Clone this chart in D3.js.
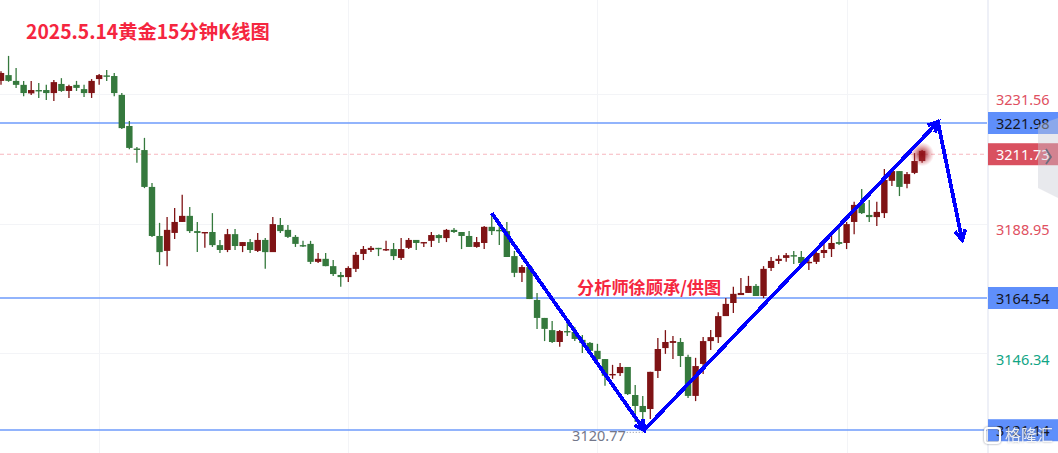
<!DOCTYPE html>
<html>
<head>
<meta charset="utf-8">
<script src="https://cdn.jsdelivr.net/npm/d3@7"></script>
<style>
  html, body { margin: 0; padding: 0; background: #fff; overflow: hidden; }
  svg { display: block; }
  text { font-family: "Noto Sans", "Noto Sans CJK SC", sans-serif; }
</style>
</head>
<body>
<svg id="chart"></svg>
<script>
// 15 minute candles, one entry per bar
const opens = [3235.8,3237.7,3235.8,3234.5,3231.7,3232.8,3232.8,3231.8,3234.8,3232.5,3234.5,3233.1,3231.8,3236.4,3237.6,3237.4,3231.2,3221.0,3213.6,3213.1,
  3201.0,3184.9,3180.0,3185.9,3189.5,3191.5,3186.5,3185.9,3186.2,3181.9,3180.3,3185.5,3181.6,3182.9,3180.0,3183.6,3179.6,3188.5,3186.9,3184.6,
  3181.9,3182.3,3176.4,3177.4,3175.0,3172.1,3171.4,3174.1,3179.0,3180.3,3181.0,3180.3,3180.6,3177.7,3181.0,3183.6,3182.6,3183.3,3185.2,3184.2,
  3186.9,3186.2,3184.9,3181.3,3182.6,3187.9,3186.9,3186.5,3178.3,3172.8,3174.7,3163.9,3158.0,3154.0,3150.1,3153.7,3153.4,3150.8,3149.8,3147.2,
  3144.5,3139.3,3139.9,3141.9,3132.7,3129.1,3128.1,3140.6,3148.1,3149.8,3150.1,3145.2,3132.4,3142.9,3150.4,3151.7,3158.6,3162.9,3165.5,3166.2,
  3168.5,3165.2,3174.4,3176.7,3177.7,3178.6,3178.0,3176.0,3176.4,3179.3,3180.6,3182.9,3182.6,3189.5,3195.7,3191.8,3191.1,3192.4,3203.0,3206.2,
  3202.0,3205.6,3209.5];
const highs = [3239.0,3244.0,3240.0,3235.8,3235.8,3235.1,3234.5,3236.1,3236.7,3234.5,3235.8,3234.5,3236.4,3238.1,3239.4,3238.4,3231.8,3222.6,3214.1,3217.1,
  3202.3,3189.2,3191.1,3194.1,3198.4,3194.4,3189.5,3186.2,3192.4,3183.6,3187.2,3187.2,3182.9,3183.9,3185.9,3184.2,3191.1,3190.8,3188.5,3185.2,
  3183.3,3183.3,3179.3,3179.3,3177.0,3173.1,3175.0,3179.6,3181.6,3181.6,3181.0,3183.3,3182.6,3184.2,3184.2,3183.6,3182.9,3186.2,3185.5,3187.2,
  3187.5,3186.2,3186.5,3184.6,3188.2,3192.4,3189.5,3189.5,3180.0,3175.4,3175.4,3166.2,3158.0,3157.0,3154.0,3156.7,3155.0,3152.4,3150.1,3149.5,
  3144.5,3142.6,3143.2,3141.9,3136.0,3132.4,3140.3,3151.4,3154.0,3152.1,3151.4,3145.9,3144.9,3151.7,3154.0,3159.9,3164.5,3168.2,3171.1,3171.8,
  3169.1,3175.0,3178.0,3178.6,3179.3,3180.0,3180.0,3178.0,3179.6,3182.6,3185.2,3187.5,3189.5,3196.1,3200.3,3196.7,3196.1,3206.9,3206.6,3206.2,
  3205.9,3212.1,3213.1];
const lows = [3234.5,3235.5,3233.5,3230.8,3231.2,3230.2,3229.5,3229.2,3232.2,3230.2,3232.5,3230.5,3230.2,3234.5,3235.8,3230.8,3220.0,3213.4,3208.9,3200.6,
  3184.6,3175.4,3175.0,3183.9,3189.5,3185.9,3179.6,3181.0,3181.3,3179.3,3179.6,3180.3,3179.6,3179.3,3179.6,3174.1,3179.6,3185.9,3184.2,3181.3,
  3181.3,3175.7,3176.0,3175.0,3171.8,3168.2,3169.8,3173.1,3177.0,3179.6,3178.3,3180.0,3177.0,3177.0,3180.6,3180.3,3181.3,3181.3,3182.6,3182.9,
  3185.9,3180.6,3181.3,3181.0,3180.6,3185.2,3181.9,3178.0,3171.4,3169.8,3164.2,3154.4,3150.4,3149.8,3148.5,3152.1,3150.4,3146.5,3146.5,3144.2,
  3135.7,3138.0,3138.9,3132.7,3123.8,3120.8,3124.8,3138.3,3146.2,3144.5,3141.9,3131.7,3130.7,3139.6,3147.5,3149.8,3158.6,3159.6,3165.5,3166.2,
  3165.2,3164.5,3173.4,3175.7,3176.4,3175.7,3174.7,3173.7,3175.7,3177.7,3178.0,3181.9,3180.6,3185.5,3192.1,3189.5,3188.2,3190.8,3201.3,3198.0,
  3200.6,3205.2,3208.9];
const closes = [3238.4,3235.8,3234.5,3231.8,3232.8,3232.5,3231.8,3235.4,3232.5,3234.1,3233.5,3231.8,3235.8,3237.7,3237.4,3231.8,3220.3,3213.8,3213.3,3201.0,
  3184.9,3179.6,3186.9,3189.5,3191.5,3186.5,3185.9,3186.2,3181.9,3180.3,3185.5,3181.6,3182.9,3180.3,3183.6,3179.6,3188.8,3186.5,3184.6,3182.3,
  3181.6,3176.4,3177.4,3175.0,3172.4,3171.4,3174.4,3178.7,3180.6,3181.0,3180.6,3180.6,3178.3,3180.6,3183.6,3182.6,3182.9,3185.2,3184.2,3186.9,
  3186.2,3184.9,3181.3,3182.9,3187.9,3186.5,3186.5,3178.0,3172.8,3174.7,3164.2,3158.0,3154.4,3150.1,3153.7,3153.4,3151.1,3149.8,3147.2,3144.5,
  3139.0,3139.6,3141.9,3133.0,3129.1,3127.1,3140.3,3147.8,3150.1,3150.4,3145.5,3132.4,3142.2,3150.4,3151.7,3158.6,3162.6,3165.9,3166.2,3168.5,
  3165.2,3174.1,3176.7,3177.4,3178.6,3178.3,3176.0,3176.4,3179.3,3180.3,3182.6,3182.3,3188.8,3195.1,3192.4,3191.1,3192.8,3203.3,3206.2,3201.0,
  3205.2,3209.5,3212.8];

const gridPrices = [3231.56, 3188.95, 3146.34];
const gridBars = [13, 46, 79, 112];
const linePrices = [3221.98, 3164.54, 3121.14];
const lastPrice = 3211.73;
const lowBar = 85, lowPrice = 3120.77;

// hand drawn blue arrows, in bar number / price
const arrowBars = [65, 85.2, 124.1, 127.3];
const arrowPrices = [3192.4, 3121.2, 3222.3, 3183.6];

const titleText = "2025.5.14黄金15分钟K线图";
const noteText = "分析师徐顾承/供图";

const svgWidth = 1058, svgHeight = 453, plotRight = 988;
const red = "#7f1315", green = "#35793d", blue = "#6e9bfb";

const svg = d3.select("#chart").attr("width", svgWidth).attr("height", svgHeight);

const x = d3.scaleLinear().domain([0, 100]).range([1, 756]);
const y = d3.scaleLinear().domain([3164.54, 3221.98]).range([298, 123]);

// grid
const grid = svg.append("g").attr("stroke", "#f3f4f7").attr("stroke-width", 1);
grid.selectAll(".gy").data(gridPrices).enter().append("line")
  .attr("x1", 0).attr("x2", plotRight)
  .attr("y1", d => Math.round(y(d)) + 0.5).attr("y2", d => Math.round(y(d)) + 0.5);
grid.selectAll(".gx").data(gridBars).enter().append("line")
  .attr("y1", 0).attr("y2", svgHeight)
  .attr("x1", d => Math.round(x(d)) + 0.5).attr("x2", d => Math.round(x(d)) + 0.5);

// horizontal levels
svg.selectAll(".level").data(linePrices).enter().append("line")
  .attr("x1", 0).attr("x2", plotRight)
  .attr("y1", d => Math.round(y(d))).attr("y2", d => Math.round(y(d)))
  .attr("stroke", blue).attr("stroke-width", 1.4);
svg.append("line")
  .attr("x1", 0).attr("x2", plotRight)
  .attr("y1", y(lastPrice)).attr("y2", y(lastPrice))
  .attr("stroke", "#f7b6bf").attr("stroke-width", 1.2).attr("stroke-dasharray", "4 3");

// candles
const candles = svg.append("g").style("filter", "blur(0.4px)");
const bars = candles.selectAll("g").data(d3.range(opens.length)).enter().append("g");
const barColor = i => closes[i] >= opens[i] ? red : green;
bars.append("line")
  .attr("x1", i => x(i)).attr("x2", i => x(i))
  .attr("y1", i => y(highs[i])).attr("y2", i => y(lows[i]))
  .attr("stroke", barColor).attr("stroke-width", 1.3);
bars.append("rect")
  .attr("x", i => x(i) - 3.2).attr("width", 6.4)
  .attr("y", i => y(Math.max(opens[i], closes[i])))
  .attr("height", i => Math.max(1.4, Math.abs(y(opens[i]) - y(closes[i]))))
  .attr("fill", barColor);

// pulse on the last bar
const defs = svg.append("defs");
const glow = defs.append("radialGradient").attr("id", "glow");
glow.append("stop").attr("offset", "0%").attr("stop-color", "#8f1016").attr("stop-opacity", 0.95);
glow.append("stop").attr("offset", "40%").attr("stop-color", "#a8252d").attr("stop-opacity", 0.6);
glow.append("stop").attr("offset", "100%").attr("stop-color", "#d9505f").attr("stop-opacity", 0);
svg.append("circle").attr("cx", x(opens.length - 1)).attr("cy", y(lastPrice)).attr("r", 12).attr("fill", "url(#glow)");

// lowest price label
svg.append("text")
  .attr("x", x(lowBar) - 17).attr("y", y(lowPrice) + 9.5)
  .attr("text-anchor", "end")
  .style("font-size", "14.5px").style("fill", "#73778a")
  .text(d3.format(".2f")(lowPrice));
svg.append("line")
  .attr("x1", x(lowBar) - 16).attr("x2", x(lowBar))
  .attr("y1", y(lowPrice) + 1).attr("y2", y(lowPrice) + 1)
  .attr("stroke", "#8a8ea0").attr("stroke-dasharray", "1 2");

// arrows
const arrows = svg.append("g")
  .attr("stroke", "#0000ff").attr("fill", "none").attr("stroke-width", 3.8)
  .attr("shape-rendering", "crispEdges");
const pts = arrowBars.map((b, i) => [x(b), y(arrowPrices[i])]);
arrows.append("path").attr("d", d3.line()(pts));
d3.pairs(pts).forEach(([a, b]) => {
  const ang = Math.atan2(b[1] - a[1], b[0] - a[0]);
  const barb = t => [b[0] - 11 * Math.cos(ang + t), b[1] - 11 * Math.sin(ang + t)];
  arrows.append("path").attr("d", d3.line()([barb(0.5), b, barb(-0.5)]));
});

// right axis panel
svg.append("rect").attr("x", plotRight).attr("y", 0).attr("width", svgWidth - plotRight).attr("height", svgHeight).attr("fill", "#fff");
svg.append("line").attr("x1", plotRight).attr("x2", plotRight).attr("y1", 0).attr("y2", svgHeight)
  .attr("stroke", "#eef0f7").attr("stroke-width", 2);

const axis = svg.append("g")
  .attr("transform", `translate(${plotRight},0)`)
  .call(d3.axisRight(y).tickValues(gridPrices).tickSize(0).tickPadding(8).tickFormat(d3.format(".2f")));
axis.select(".domain").remove();
axis.selectAll("text")
  .attr("dy", "0.75em")
  .style("font-family", "'Noto Sans', sans-serif").style("font-size", "14.5px")
  .style("fill", d => d > lastPrice || d === 3188.95 ? "#e0505f" : "#12a585");

// boxed price tags
const tags = svg.selectAll(".tag").data(linePrices.concat([lastPrice])).enter().append("g");
tags.append("rect")
  .attr("x", plotRight).attr("width", svgWidth - plotRight)
  .attr("y", d => y(d) - 11).attr("height", 22)
  .attr("fill", d => d === lastPrice ? "#d9505f" : "#5f8ffb");
tags.append("text")
  .attr("x", plotRight + 8).attr("y", d => y(d) + 5.5)
  .style("font-size", "14.5px")
  .style("fill", d => d === lastPrice ? "#fff" : "#14161f")
  .text(d3.format(".2f"));

// collapse handle on the right edge
svg.append("path").attr("d", "M1038,125L1058,118L1058,198L1038,188Z").attr("fill", "#c8cad3").attr("fill-opacity", 0.42);
svg.append("path").attr("d", "M1046,149L1051,157L1046,164").attr("fill", "none").attr("stroke", "#6b6f80").attr("stroke-width", 1.8);

// watermark
const mark = svg.append("g").style("filter", "drop-shadow(0 0 1px rgba(110,115,130,0.8))");
mark.append("rect").attr("x", 985).attr("y", 428).attr("width", 15).attr("height", 15).attr("rx", 3)
  .attr("fill", "none").attr("stroke", "#fff").attr("stroke-width", 2);
mark.append("text").attr("x", 1005).attr("y", 441).style("font-size", "16px").style("fill", "#fff").style("fill-opacity", 0.85)
  .style("font-family", "'Noto Sans CJK SC'").text("格隆汇");

// title and note
svg.append("text").attr("x", 26).attr("y", 39)
  .style("font-size", "19.3px").style("font-weight", "700").style("fill", "#f5263f")
  .style("font-family", "'Noto Sans CJK SC'").text(titleText);
svg.append("text").attr("x", 577).attr("y", 293.5)
  .style("font-size", "17.2px").style("font-weight", "700").style("fill", "#f5263f")
  .style("font-family", "'Noto Sans CJK SC'").text(noteText);
</script>
</body>
</html>
